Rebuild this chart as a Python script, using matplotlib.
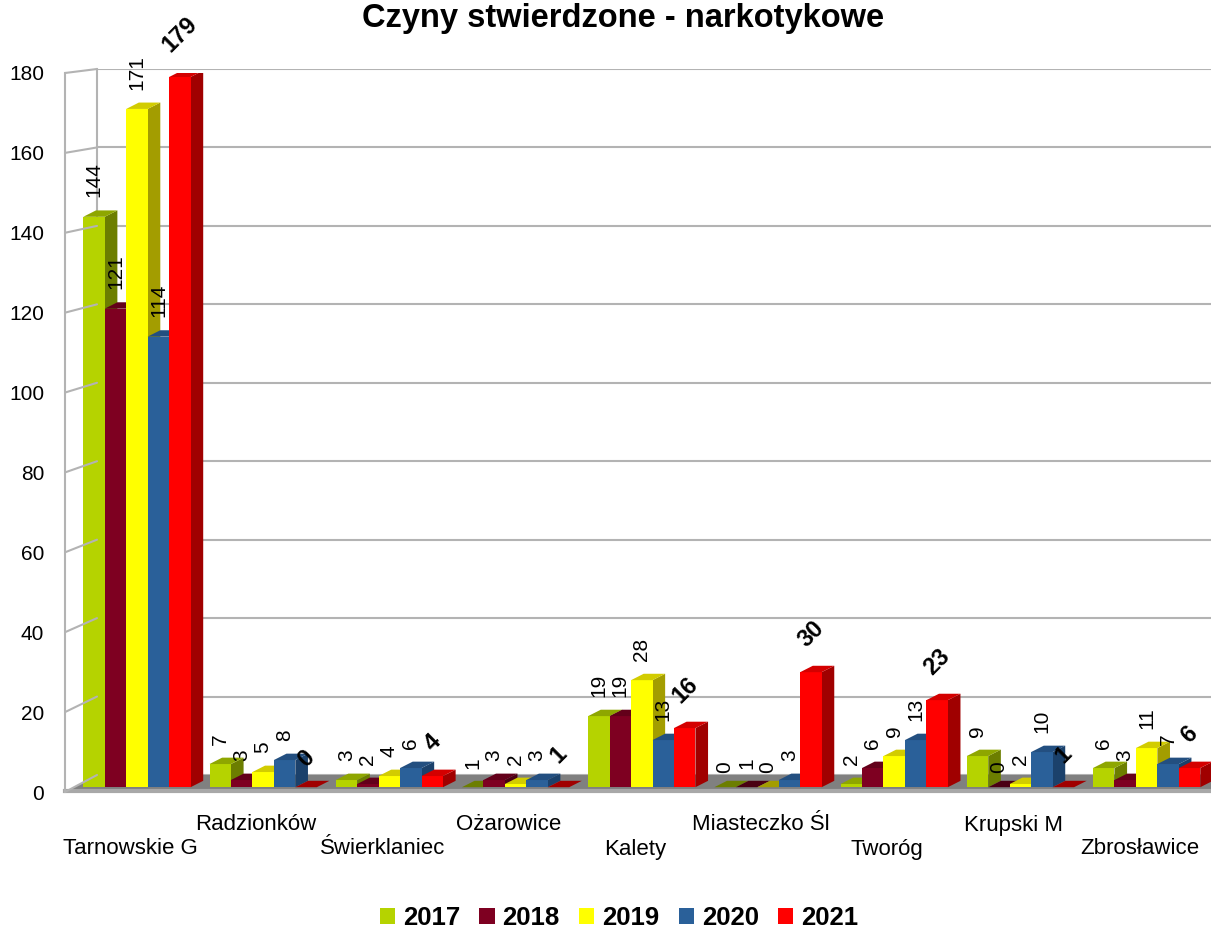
"""Czyny stwierdzone - narkotykowe: pseudo-3D grouped bar chart
"""
import numpy as np
import matplotlib
matplotlib.use('agg')
import matplotlib.pyplot as plt
from matplotlib.patches import Polygon, Patch, ConnectionPatch

plt.rcParams['font.family'] = ['Liberation Sans', 'DejaVu Sans']

title = 'Czyny stwierdzone - narkotykowe'
places = ['Tarnowskie G', 'Radzionków', 'Świerklaniec', 'Ożarowice', 'Kalety',
          'Miasteczko Śl', 'Tworóg', 'Krupski M', 'Zbrosławice']
years = ['2017', '2018', '2019', '2020', '2021']
v2017 = [144, 7, 3, 1, 19, 0, 2, 9, 6]
v2018 = [121, 3, 2, 3, 19, 1, 6, 0, 3]
v2019 = [171, 5, 4, 2, 28, 0, 9, 2, 11]
v2020 = [114, 8, 6, 3, 13, 3, 13, 10, 7]
v2021 = [179, 0, 4, 1, 16, 30, 23, 1, 6]
yticks = list(range(0, 181, 20))

series = [v2017, v2018, v2019, v2020, v2021]
front_col = ['#b5d300', '#7e0021', '#ffff00', '#2a6099', '#ff0000']
side_col = ['#6c7e00', '#4a0013', '#a39d00', '#1b416b', '#a00000']
top_col = ['#8ea600', '#63001a', '#d2cc00', '#234f80', '#d40000']

W, H = 1211, 932
fig = plt.figure(figsize=(W/100, H/100), dpi=100)

# back wall
back = fig.add_axes([97/W, 1-775/H, (1300-97)/W, (775-69)/H])
back.set_ylim(0, 180)
back.set_xlim(0, 1)
back.set_yticks(yticks)
back.set_xticks([])
back.grid(axis='y', color='#b3b3b3', lw=1.5)
back.tick_params(left=False, labelleft=False)
for s in ['top', 'right', 'bottom']:
    back.spines[s].set_visible(False)
back.spines['left'].set_color('#b3b3b3')
back.spines['left'].set_linewidth(1.5)

# front plane
ax = fig.add_axes([65/W, 1-792/H, (W-65)/W, (792-73)/H])
ax.patch.set_visible(False)
ax.set_xlim(-0.57, 8.51)
ax.set_ylim(0, 180)
ax.set_yticks(yticks)
ax.set_xticks([])
ax.tick_params(axis='y', length=0, pad=15, labelsize=15)
for s in ['top', 'right', 'bottom']:
    ax.spines[s].set_visible(False)
ax.spines['left'].set_color('#b3b3b3')
ax.spines['left'].set_linewidth(1.5)

# left wall lines
for t in yticks:
    cp = ConnectionPatch(xyA=(0, t), coordsA=ax.get_yaxis_transform(),
                         xyB=(0, t), coordsB=back.get_yaxis_transform(),
                         color='#b3b3b3', lw=1.5)
    fig.add_artist(cp)

# floor
bx, by = ax.transData.inverted().transform(back.transData.transform((0, 0)))
x0, x1 = ax.get_xlim()
floor = Polygon([(x0, 0), (x1 + 1, 0), (x1 + 1, by), (bx, by)], closed=True,
                facecolor='#808080', edgecolor='none', clip_on=False, zorder=1)
ax.add_patch(floor)
ax.plot([x0, x1 + 1], [0.35, 0.35], color='#a8a8a8', lw=3, clip_on=False, zorder=1)

# bars
w = 0.17
dx, dy = 0.1, 1.6
base = 1.2
z = 2
for g in range(len(places)):
    for k in range(5):
        v = series[k][g]
        left = g + (k - 2.5) * w
        right = left + w
        top = max(v, base)
        if v > base:
            ax.add_patch(Polygon([(right, base), (right + dx, base + dy),
                                  (right + dx, top + dy), (right, top)],
                                 closed=True, facecolor=side_col[k], edgecolor='none', zorder=z))
            ax.add_patch(Polygon([(left, base), (right, base), (right, top), (left, top)],
                                 closed=True, facecolor=front_col[k], edgecolor='none', zorder=z))
        ax.add_patch(Polygon([(left, top), (right, top), (right + dx, top + dy), (left + dx, top + dy)],
                             closed=True, facecolor=top_col[k] if v > base else side_col[k],
                             edgecolor='none', zorder=z))
        z += 1
        cx = left + w / 2
        if k < 4:
            ax.annotate(str(v), xy=(cx, v), xytext=(0, 14), textcoords='offset points',
                        rotation=90, ha='center', va='bottom', fontsize=15, zorder=100)
        else:
            ax.annotate(str(v), xy=(cx, v), xytext=(0, 15), textcoords='offset points',
                        rotation=45, ha='center', va='bottom', fontsize=17,
                        fontweight='bold', zorder=100)

# category labels, staggered
for g, name in enumerate(places):
    off = -57 if g % 2 == 0 else -33
    ax.annotate(name, xy=(g - 0.055, 0), xycoords=('data', 'axes fraction'),
                xytext=(0, off * 0.72), textcoords='offset points',
                ha='center', va='center', fontsize=16, annotation_clip=False)

fig.text(623/W, 1-27/H, title, ha='center', va='baseline', fontsize=23.5, fontweight='bold')

handles = [Patch(facecolor=c, edgecolor='none') for c in front_col]
fig.legend(handles, years, loc='center', bbox_to_anchor=(619/W, 1-918/H),
           ncol=5, frameon=False, prop={'weight': 'bold', 'size': 18.5},
           handlelength=0.6, handleheight=0.6, handletextpad=0.3, columnspacing=0.75)

fig.savefig('out.png', dpi=100)
